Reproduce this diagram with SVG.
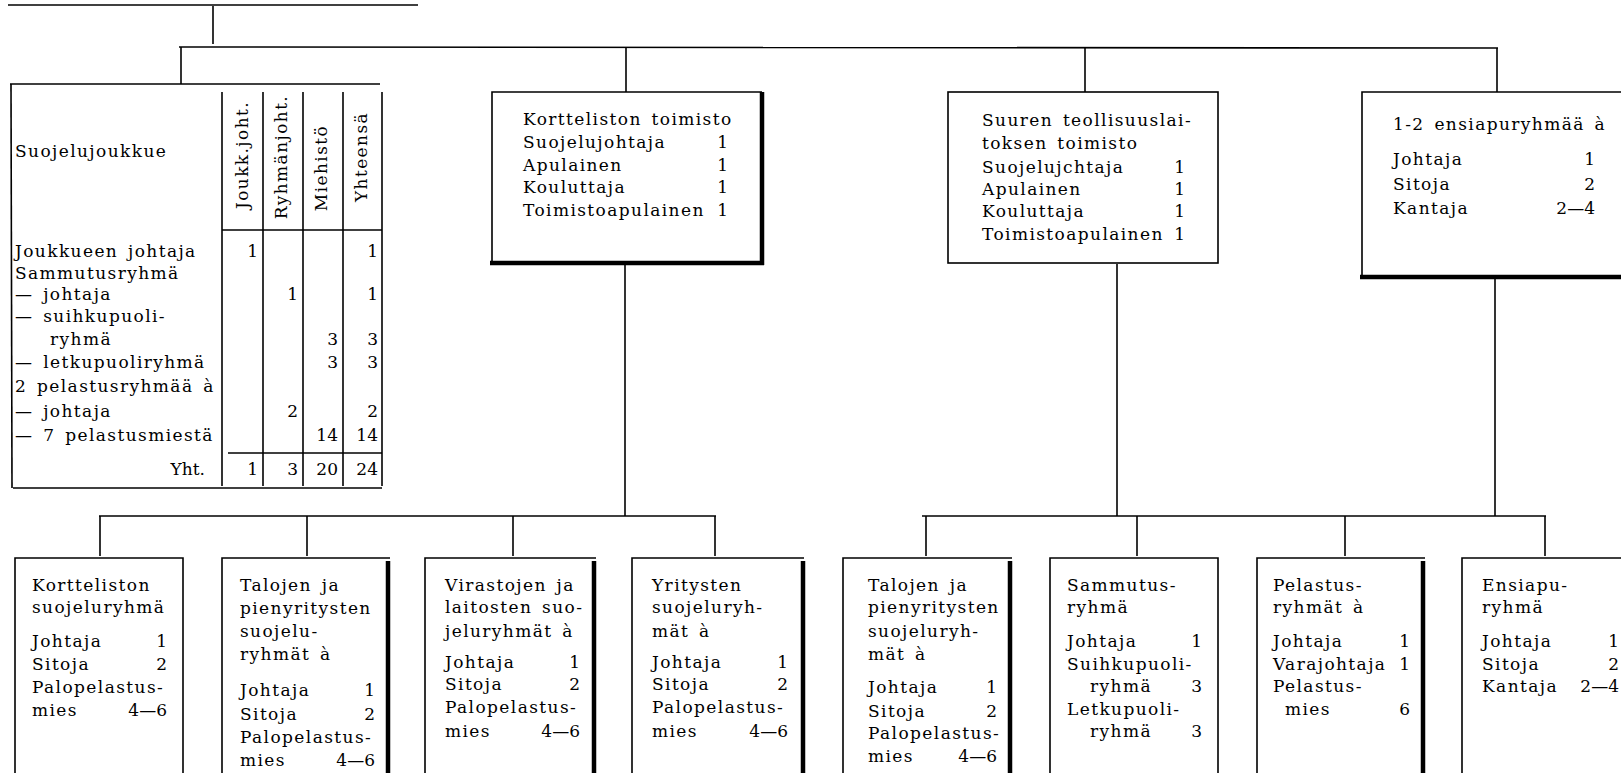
<svg xmlns="http://www.w3.org/2000/svg" width="1621" height="773" viewBox="0 0 1621 773">
<style>
text { font-family: "DejaVu Serif", "Liberation Serif", serif; font-size: 17px; letter-spacing: 1.4px; word-spacing: 3px; fill: #000; }
.n { text-anchor: end; letter-spacing: 0px; }
.m { text-anchor: middle; }
.thin { stroke: #000; stroke-width: 1.6; fill: none; }
.thick { stroke: #000; stroke-width: 4.5; fill: none; }
.c { stroke: #000; stroke-width: 1.6; fill: none; }
</style>
<rect width="1621" height="773" fill="#fff"/>
<g id="header">
  <line class="thin" x1="8" y1="5" x2="418" y2="5"/>
</g>
<g id="connectors">
  <line class="c" x1="213" y1="6" x2="213" y2="44"/>
  <line class="c" x1="179" y1="47" x2="1498" y2="48"/>
  <line class="c" x1="181" y1="47" x2="181" y2="84"/>
  <line class="c" x1="626" y1="47" x2="626" y2="92"/>
  <line class="c" x1="1085" y1="48" x2="1085" y2="92"/>
  <line class="c" x1="1497" y1="48" x2="1497" y2="92"/>
  <line class="c" x1="625" y1="265" x2="625" y2="516"/>
  <line class="c" x1="1117" y1="264" x2="1117" y2="516"/>
  <line class="c" x1="1495" y1="279" x2="1495" y2="516"/>
  <line class="c" x1="99" y1="516" x2="716" y2="516"/>
  <line class="c" x1="922" y1="516" x2="1546" y2="516"/>
  <line class="c" x1="100" y1="516" x2="100" y2="556"/>
  <line class="c" x1="307" y1="516" x2="307" y2="556"/>
  <line class="c" x1="513" y1="516" x2="513" y2="556"/>
  <line class="c" x1="715" y1="516" x2="715" y2="556"/>
  <line class="c" x1="926" y1="516" x2="926" y2="556"/>
  <line class="c" x1="1137" y1="516" x2="1137" y2="556"/>
  <line class="c" x1="1345" y1="516" x2="1345" y2="556"/>
  <line class="c" x1="1545" y1="516" x2="1545" y2="556"/>
</g>
<g id="suojelujoukkue">
  <line class="thin" x1="10" y1="84" x2="380" y2="84"/>
  <line class="thin" x1="11" y1="84" x2="12" y2="488"/>
  <line class="thin" x1="13" y1="488" x2="382" y2="488"/>
  <line class="thin" x1="222" y1="92" x2="222" y2="486"/>
  <line class="thin" x1="263" y1="92" x2="263" y2="486"/>
  <line class="thin" x1="303" y1="92" x2="303" y2="486"/>
  <line class="thin" x1="343" y1="92" x2="343" y2="486"/>
  <line class="thin" x1="382" y1="92" x2="382" y2="486"/>
  <line class="thin" x1="222" y1="230" x2="382" y2="230"/>
  <line class="thin" x1="228" y1="453" x2="382" y2="453"/>
  <text class="m" transform="translate(248,155) rotate(-90)">Joukk.joht.</text>
  <text class="m" transform="translate(287,157) rotate(-90)">Ryhmänjoht.</text>
  <text class="m" transform="translate(327,168) rotate(-90)">Miehistö</text>
  <text class="m" transform="translate(367,157) rotate(-90)">Yhteensä</text>
  <text x="15" y="157">Suojelujoukkue</text>
  <text x="15" y="257">Joukkueen johtaja</text>
  <text class="n" x="258" y="257">1</text>
  <text class="n" x="378" y="257">1</text>
  <text x="15" y="279">Sammutusryhmä</text>
  <text x="15" y="300">— johtaja</text>
  <text class="n" x="298" y="300">1</text>
  <text class="n" x="378" y="300">1</text>
  <text x="15" y="322">— suihkupuoli-</text>
  <text x="50" y="345">ryhmä</text>
  <text class="n" x="338" y="345">3</text>
  <text class="n" x="378" y="345">3</text>
  <text x="15" y="368">— letkupuoliryhmä</text>
  <text class="n" x="338" y="368">3</text>
  <text class="n" x="378" y="368">3</text>
  <text x="15" y="392">2 pelastusryhmää à</text>
  <text x="15" y="417">— johtaja</text>
  <text class="n" x="298" y="417">2</text>
  <text class="n" x="378" y="417">2</text>
  <text x="15" y="441">— 7 pelastusmiestä</text>
  <text class="n" x="338" y="441">14</text>
  <text class="n" x="378" y="441">14</text>
  <text class="n" x="205" y="475">Yht.</text>
  <text class="n" x="258" y="475">1</text>
  <text class="n" x="298" y="475">3</text>
  <text class="n" x="338" y="475">20</text>
  <text class="n" x="378" y="475">24</text>
</g>
<g id="kortteliston-toimisto">
  <polyline class="thin" points="762,92 492,92 492,263"/>
  <line class="thick" x1="762" y1="92" x2="762" y2="265"/>
  <line class="thick" x1="490" y1="263" x2="764" y2="263"/>
  <text x="523" y="125">Kortteliston toimisto</text>
  <text x="523" y="148">Suojelujohtaja</text><text class="n" x="728" y="148">1</text>
  <text x="523" y="171">Apulainen</text><text class="n" x="728" y="171">1</text>
  <text x="523" y="193">Kouluttaja</text><text class="n" x="728" y="193">1</text>
  <text x="523" y="216">Toimistoapulainen</text><text class="n" x="728" y="216">1</text>
</g>
<g id="suuren-teollisuuslaitoksen-toimisto">
  <rect class="thin" x="948" y="92" width="270" height="171"/>
  <text x="982" y="126">Suuren teollisuuslai-</text>
  <text x="982" y="149">toksen toimisto</text>
  <text x="982" y="173">Suojelujchtaja</text><text class="n" x="1185" y="173">1</text>
  <text x="982" y="195">Apulainen</text><text class="n" x="1185" y="195">1</text>
  <text x="982" y="217">Kouluttaja</text><text class="n" x="1185" y="217">1</text>
  <text x="982" y="240">Toimistoapulainen</text><text class="n" x="1185" y="240">1</text>
</g>
<g id="ensiapuryhmat">
  <polyline class="thin" points="1621,92 1362,92 1362,277"/>
  <line class="thick" x1="1360" y1="277" x2="1621" y2="277"/>
  <text x="1393" y="130">1-2 ensiapuryhmää à</text>
  <text x="1393" y="165">Johtaja</text><text class="n" x="1595" y="165">1</text>
  <text x="1393" y="190">Sitoja</text><text class="n" x="1595" y="190">2</text>
  <text x="1393" y="214">Kantaja</text><text class="n" x="1595" y="214">2—4</text>
</g>
<g id="kortteliston-suojeluryhma">
  <polyline class="thin" points="15,773 15,558 183,558 183,773"/>
  <text x="32" y="591">Kortteliston</text>
  <text x="32" y="613">suojeluryhmä</text>
  <text x="32" y="647">Johtaja</text><text class="n" x="167" y="647">1</text>
  <text x="32" y="670">Sitoja</text><text class="n" x="167" y="670">2</text>
  <text x="32" y="693">Palopelastus-</text>
  <text x="32" y="716">mies</text><text class="n" x="167" y="716">4—6</text>
</g>
<g id="talojen-suojeluryhmat-1">
  <polyline class="thin" points="222,773 222,558 390,558"/>
  <line class="thick" x1="388" y1="561" x2="388" y2="773"/>
  <text x="240" y="591">Talojen ja</text>
  <text x="240" y="614">pienyritysten</text>
  <text x="240" y="637">suojelu-</text>
  <text x="240" y="660">ryhmät à</text>
  <text x="240" y="696">Johtaja</text><text class="n" x="375" y="696">1</text>
  <text x="240" y="720">Sitoja</text><text class="n" x="375" y="720">2</text>
  <text x="240" y="743">Palopelastus-</text>
  <text x="240" y="766">mies</text><text class="n" x="375" y="766">4—6</text>
</g>
<g id="virastojen-suojeluryhmat">
  <polyline class="thin" points="425,773 425,558 596,558"/>
  <line class="thick" x1="594" y1="561" x2="594" y2="773"/>
  <text x="445" y="591">Virastojen ja</text>
  <text x="445" y="613">laitosten suo-</text>
  <text x="445" y="637">jeluryhmät à</text>
  <text x="445" y="668">Johtaja</text><text class="n" x="580" y="668">1</text>
  <text x="445" y="690">Sitoja</text><text class="n" x="580" y="690">2</text>
  <text x="445" y="713">Palopelastus-</text>
  <text x="445" y="737">mies</text><text class="n" x="580" y="737">4—6</text>
</g>
<g id="yritysten-suojeluryhmat">
  <polyline class="thin" points="632,773 632,558 804,558"/>
  <line class="thick" x1="803" y1="561" x2="803" y2="773"/>
  <text x="652" y="591">Yritysten</text>
  <text x="652" y="613">suojeluryh-</text>
  <text x="652" y="637">mät à</text>
  <text x="652" y="668">Johtaja</text><text class="n" x="788" y="668">1</text>
  <text x="652" y="690">Sitoja</text><text class="n" x="788" y="690">2</text>
  <text x="652" y="713">Palopelastus-</text>
  <text x="652" y="737">mies</text><text class="n" x="788" y="737">4—6</text>
</g>
<g id="talojen-suojeluryhmat-2">
  <polyline class="thin" points="843,773 843,558 1012,558"/>
  <line class="thick" x1="1010" y1="561" x2="1010" y2="773"/>
  <text x="868" y="591">Talojen ja</text>
  <text x="868" y="613">pienyritysten</text>
  <text x="868" y="637">suojeluryh-</text>
  <text x="868" y="660">mät à</text>
  <text x="868" y="693">Johtaja</text><text class="n" x="997" y="693">1</text>
  <text x="868" y="717">Sitoja</text><text class="n" x="997" y="717">2</text>
  <text x="868" y="739">Palopelastus-</text>
  <text x="868" y="762">mies</text><text class="n" x="997" y="762">4—6</text>
</g>
<g id="sammutusryhma">
  <polyline class="thin" points="1050,773 1050,558 1218,558 1218,773"/>
  <text x="1067" y="591">Sammutus-</text>
  <text x="1067" y="613">ryhmä</text>
  <text x="1067" y="647">Johtaja</text><text class="n" x="1202" y="647">1</text>
  <text x="1067" y="670">Suihkupuoli-</text>
  <text x="1090" y="692">ryhmä</text><text class="n" x="1202" y="692">3</text>
  <text x="1067" y="715">Letkupuoli-</text>
  <text x="1090" y="737">ryhmä</text><text class="n" x="1202" y="737">3</text>
</g>
<g id="pelastusryhmat">
  <polyline class="thin" points="1257,773 1257,558 1425,558"/>
  <line class="thick" x1="1423" y1="561" x2="1423" y2="773"/>
  <text x="1273" y="591">Pelastus-</text>
  <text x="1273" y="613">ryhmät à</text>
  <text x="1273" y="647">Johtaja</text><text class="n" x="1410" y="647">1</text>
  <text x="1273" y="670">Varajohtaja</text><text class="n" x="1410" y="670">1</text>
  <text x="1273" y="692">Pelastus-</text>
  <text x="1285" y="715">mies</text><text class="n" x="1410" y="715">6</text>
</g>
<g id="ensiapuryhma">
  <polyline class="thin" points="1462,773 1462,558 1621,558"/>
  <text x="1482" y="591">Ensiapu-</text>
  <text x="1482" y="613">ryhmä</text>
  <text x="1482" y="647">Johtaja</text><text class="n" x="1619" y="647">1</text>
  <text x="1482" y="670">Sitoja</text><text class="n" x="1619" y="670">2</text>
  <text x="1482" y="692">Kantaja</text><text class="n" x="1619" y="692">2—4</text>
</g>
</svg>
